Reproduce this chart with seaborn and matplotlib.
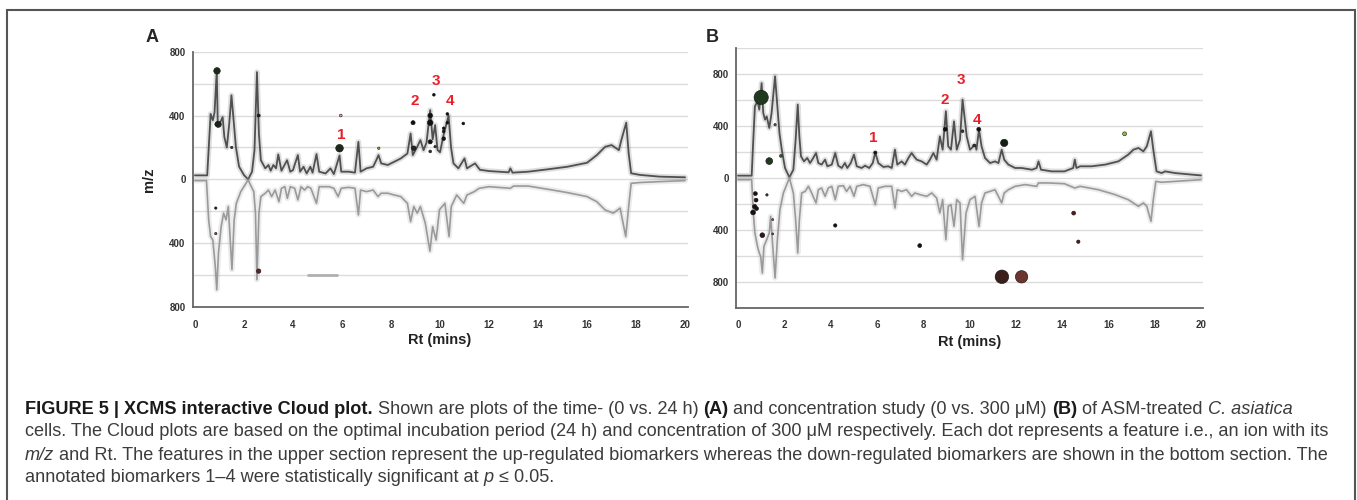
import matplotlib
matplotlib.use("Agg")
import matplotlib.pyplot as plt
from matplotlib.patches import Rectangle
from matplotlib.ticker import MultipleLocator, FuncFormatter
import seaborn as sns

# ---- data: Rt (min) and signed m/z height ----
# panel A, upper (up-regulated) trace
rt_a_up = [0, 0.5, 0.64, 0.73, 0.8, 0.89, 0.93, 1.04, 1.13, 1.2, 1.3, 1.4, 1.49, 1.6, 1.67, 1.8, 2.0, 2.17,
           2.33, 2.43, 2.53, 2.61, 2.69, 2.87, 3.0, 3.09, 3.2, 3.31, 3.4, 3.53, 3.76, 3.89, 4.0, 4.2, 4.29,
           4.43, 4.56, 4.71, 4.8, 4.96, 5.07, 5.33, 5.53, 5.67, 5.9, 5.97, 6.27, 6.53, 6.67, 6.76, 7.0, 7.27,
           7.4, 7.49, 7.6, 7.87, 8.13, 8.4, 8.67, 8.8, 8.89, 9.07, 9.2, 9.33, 9.45, 9.6, 9.7, 9.8, 9.9, 10.0,
           10.15, 10.35, 10.45, 10.55, 10.75, 11.0, 11.1, 11.43, 11.63, 12.0, 12.8, 12.87, 12.96, 13.6, 14.4,
           15.2, 16.0, 16.4, 16.74, 17.0, 17.3, 17.4, 17.6, 17.7, 17.8, 18.15, 18.96, 20.0]
mz_a_up = [25, 25, 410, 370, 420, 680, 350, 360, 390, 265, 200, 350, 527, 330, 204, 80, 27, 0,
           48, 183, 672, 287, 120, 69, 90, 54, 90, 69, 156, 54, 120, 48, 58, 152, 48,
           79, 37, 79, 42, 158, 48, 37, 69, 33, 150, 48, 48, 42, 235, 48, 69, 79,
           120, 152, 100, 90, 110, 131, 162, 287, 152, 204, 246, 183, 230, 434, 250, 340, 184, 170,
           280, 400, 200, 100, 69, 131, 69, 100, 60, 52, 44, 69, 42, 48, 63,
           79, 104, 152, 204, 215, 183, 246, 355, 162, 38, 28, 17, 13]

# panel A, lower (down-regulated) trace
rt_a_dn = [0, 0.47, 0.56, 0.64, 0.73, 0.83, 0.89, 0.96, 1.07, 1.17, 1.27, 1.36, 1.44, 1.51, 1.6, 1.69, 1.87,
           2.17, 2.4, 2.47, 2.53, 2.61, 2.69, 2.87, 3.0, 3.13, 3.27, 3.43, 3.53, 3.67, 3.77, 3.89, 4.07, 4.2,
           4.33, 4.47, 4.6, 4.73, 4.96, 5.07, 5.47, 5.67, 5.84, 5.97, 6.27, 6.53, 6.67, 6.76, 7.0, 7.27, 7.47,
           7.6, 7.87, 8.13, 8.4, 8.67, 8.8, 8.93, 9.07, 9.2, 9.4, 9.59, 9.7, 9.84, 9.98, 10.2, 10.37, 10.46,
           10.68, 10.97, 11.1, 11.4, 11.6, 12.0, 12.87, 13.0, 13.6, 14.4, 15.2, 16.0, 16.4, 16.74, 17.07,
           17.35, 17.58, 17.7, 17.8, 18.15, 19.0, 20.0]
mz_a_dn = [-8, -8, -254, -358, -380, -546, -692, -462, -296, -212, -254, -170, -379, -566, -254, -150, -77,
           -4, -77, -212, -629, -212, -108, -87, -67, -108, -67, -140, -56, -46, -119, -46, -56, -129,
           -46, -67, -46, -56, -150, -46, -46, -56, -108, -56, -50, -56, -223, -67, -77, -67, -108,
           -87, -87, -98, -108, -150, -265, -170, -212, -170, -275, -450, -296, -380, -190, -150, -358, -170,
           -98, -150, -98, -77, -56, -46, -56, -42, -42, -62, -83, -108, -140, -192, -212,
           -180, -358, -170, -25, -20, -14, -8]

# panel B, upper trace
rt_b_up = [0, 0.59, 0.66, 0.73, 0.84, 0.92, 1.02, 1.09, 1.17, 1.24, 1.35, 1.45, 1.6, 1.7, 1.79, 1.89, 2.03,
           2.22, 2.39, 2.49, 2.58, 2.65, 2.72, 2.85, 2.99, 3.11, 3.25, 3.37, 3.47, 3.61, 3.76, 3.86, 4.05,
           4.2, 4.33, 4.48, 4.62, 4.72, 4.87, 5.01, 5.13, 5.34, 5.49, 5.67, 5.82, 5.93, 6.06, 6.28, 6.49,
           6.64, 6.78, 6.88, 7.07, 7.21, 7.36, 7.5, 7.6, 7.72, 7.93, 8.15, 8.29, 8.44, 8.58, 8.72, 8.84,
           8.98, 9.08, 9.2, 9.33, 9.45, 9.59, 9.7, 9.88, 10.02, 10.24, 10.3, 10.41, 10.52, 10.67, 10.89,
           11.1, 11.25, 11.39, 11.5, 11.68, 11.97, 12.25, 12.7, 12.9, 12.98, 13.09, 13.55, 14.1, 14.48,
           14.55, 14.62, 14.78, 15.28, 15.86, 16.43, 16.86, 17.08, 17.3, 17.51, 17.66, 17.84, 17.94, 18.08,
           18.3, 18.45, 18.88, 19.6, 20.0]
mz_b_up = [18, 18, 295, 551, 590, 526, 730, 500, 449, 474, 385, 500, 782, 551, 346, 218, 77,
           5, 64, 295, 564, 320, 167, 128, 154, 115, 154, 192, 115, 103, 141, 90, 103,
           192, 95, 77, 115, 77, 115, 180, 90, 77, 95, 77, 115, 197, 115, 85, 90,
           77, 218, 103, 128, 103, 154, 192, 167, 141, 128, 103, 141, 192, 141, 320, 218,
           513, 244, 218, 436, 218, 295, 603, 320, 218, 256, 218, 372, 244, 154, 115,
           128, 115, 218, 141, 103, 77, 77, 64, 77, 128, 64, 51, 51, 77,
           141, 77, 90, 90, 103, 128, 180, 218, 231, 205, 244, 359, 218, 51,
           38, 51, 38, 26, 20]

# panel B, lower trace
rt_b_dn = [0, 0.59, 0.66, 0.73, 0.84, 0.92, 0.98, 1.05, 1.12, 1.24, 1.35, 1.41, 1.48, 1.6, 1.7, 1.81, 1.96,
           2.22, 2.39, 2.49, 2.58, 2.65, 2.75, 2.9, 3.04, 3.18, 3.37, 3.47, 3.61, 3.76, 3.9, 4.05, 4.2,
           4.33, 4.55, 4.69, 4.84, 5.01, 5.13, 5.41, 5.7, 5.93, 6.06, 6.35, 6.64, 6.78, 6.88, 7.07, 7.28,
           7.5, 7.64, 7.86, 8.15, 8.37, 8.58, 8.72, 8.84, 8.98, 9.08, 9.2, 9.33, 9.45, 9.59, 9.7, 9.85,
           10.02, 10.24, 10.41, 10.52, 10.67, 10.89, 11.1, 11.25, 11.39, 11.5, 11.68, 11.97, 12.4, 12.9,
           12.98, 13.4, 14.1, 14.55, 14.78, 15.57, 16.29, 16.86, 17.3, 17.51, 17.66, 17.84, 17.94, 18.05,
           18.3, 18.88, 20.0]
mz_b_dn = [-13, -13, -269, -423, -526, -577, -603, -731, -526, -474, -423, -295, -474, -769, -474, -244, -115,
           0, -115, -321, -577, -321, -115, -103, -64, -115, -192, -90, -77, -141, -77, -64, -167,
           -64, -59, -103, -64, -141, -64, -51, -64, -205, -77, -64, -64, -231, -90, -103, -90,
           -141, -115, -128, -141, -115, -154, -269, -167, -474, -218, -205, -372, -167, -192, -628, -269,
           -167, -141, -372, -192, -115, -103, -90, -141, -192, -115, -90, -64, -51, -64,
           -38, -38, -44, -77, -64, -90, -128, -167, -218, -192, -218, -333, -167, -26,
           -33, -26, -13]

# features (dots): Rt, signed m/z, marker area, colour
dot_a_rt = [0.9, 0.95, 0.88, 2.6, 1.5, 5.9, 5.95, 7.5, 8.9, 8.93, 9.6, 9.6, 9.6, 9.6, 9.75, 9.8,
            10.15, 10.15, 10.15, 10.3, 10.3, 10.95, 0.85, 0.85, 2.6]
dot_a_mz = [680, 345, 345, 400, 200, 195, 400, 195, 355, 195, 400, 355, 235, 175, 530, 205,
            320, 300, 255, 410, 355, 350, -180, -340, -575]
dot_a_s = [22, 20, 6, 5, 3, 30, 4, 3, 9, 11, 11, 16, 9, 4, 4, 3,
           4, 4, 7, 4, 4, 4, 3, 3, 10]
dot_a_col = ["#1c2a1c", "#1c2a1c", "#222222", "#222222", "#333333", "#1c2a1c", "#f4a0a0", "#7cb82f",
             "#111111", "#1c2a1c", "#111111", "#111111", "#111111", "#333333", "#111111", "#333333",
             "#111111", "#111111", "#111111", "#111111", "#111111", "#111111", "#222222", "#c0392b",
             "#6b1e1e"]

dot_b_rt = [1.0, 1.35, 1.85, 1.6, 5.93, 8.95, 9.7, 10.2, 10.4, 11.5, 16.7,
            0.75, 0.78, 0.72, 0.8, 0.65, 1.25, 1.05, 1.5, 1.5, 4.2, 7.85, 14.5, 14.7, 11.4, 12.25]
dot_b_mz = [620, 130, 170, 410, 195, 375, 360, 250, 375, 270, 340,
            -120, -170, -220, -235, -265, -130, -440, -320, -430, -365, -520, -270, -490, -760, -760]
dot_b_s = [105, 24, 4, 3, 5, 8, 4, 4, 8, 28, 8,
           8, 8, 10, 8, 12, 3, 12, 2, 2, 6, 8, 8, 6, 95, 80]
dot_b_col = ["#1f3a1f", "#1f3a1f", "#2e6b2e", "#555555", "#111111", "#111111", "#333333", "#333333",
             "#111111", "#142014", "#8cc43c",
             "#1a1010", "#2a1010", "#1a1010", "#1a1010", "#1a1010", "#333333", "#3a1515", "#c0392b",
             "#c0392b", "#111111", "#111111", "#5a1a1a", "#5a1a1a", "#3b1f1c", "#6b3530"]

# annotated biomarkers 1-4
marker_ids = ["1", "2", "3", "4"]
mark_a_rt = [5.95, 8.95, 9.85, 10.4]
mark_a_mz = [277, 492, 615, 492]
mark_b_rt = [5.85, 8.95, 9.61, 10.33]
mark_b_mz = [304, 602, 754, 450]

# grey bar left in panel A
bar_a_rt = [4.6, 5.8]
bar_a_mz = [-600, -600]

caption = [
    [("FIGURE 5 | XCMS interactive Cloud plot.", "b"),
     (" Shown are plots of the time- (0 vs. 24 h) ", "n"), ("(A)", "b"),
     (" and concentration study (0 vs. 300 \u03bcM) ", "n"), ("(B)", "b"),
     (" of ASM-treated ", "n"), ("C. asiatica", "i")],
    [("cells. The Cloud plots are based on the optimal incubation period (24 h) and concentration of "
      "300 \u03bcM respectively. Each dot represents a feature i.e., an ion with its", "n")],
    [("m/z", "i"), (" and Rt. The features in the upper section represent the up-regulated biomarkers "
                    "whereas the down-regulated biomarkers are shown in the bottom section. The", "n")],
    [("annotated biomarkers 1\u20134 were statistically significant at ", "n"), ("p", "i"),
     (" \u2264 0.05.", "n")],
]

# ---- figure ----
sns.set_style("white")
plt.rcParams["font.family"] = ["Liberation Sans", "DejaVu Sans"]

W, H = 1357, 500
fig = plt.figure(figsize=(W / 100, H / 100), dpi=100)


def px_axes(x0, x1, y0, y1):
    return fig.add_axes([x0 / W, 1 - y1 / H, (x1 - x0) / W, (y1 - y0) / H])


ax_a = px_axes(192.5, 687.5, 51.7, 307)
ax_b = px_axes(735.7, 1203.3, 48, 308)


def draw_panel(ax, rt_up, mz_up, rt_dn, mz_dn, d_rt, d_mz, d_s, d_col, m_rt, m_mz, lim):
    for rt, mz, col, lw in ((rt_up, mz_up, "#505050", 1.3), (rt_dn, mz_dn, "#9a9a9a", 1.2)):
        # faint band for the overlaid replicate traces, then the mean trace
        sns.lineplot(x=rt, y=mz, ax=ax, color=col, lw=4.0, alpha=0.18, sort=False, estimator=None)
        sns.lineplot(x=rt, y=mz, ax=ax, color=col, lw=lw, sort=False, estimator=None)
    pal = {c: c for c in d_col}
    sns.scatterplot(x=d_rt, y=d_mz, hue=d_col, palette=pal, size=d_s,
                    sizes=(min(d_s), max(d_s)), size_norm=(min(d_s), max(d_s)),
                    edgecolor="#111111", linewidth=0.4, legend=False, ax=ax, zorder=5)
    for t, x, y in zip(marker_ids, m_rt, m_mz):
        ax.text(x, y, t, color="#e8202a", fontsize=11, fontweight="bold",
                ha="center", va="center", zorder=6)
    ax.set_xlim(-0.1, 20.1)
    ax.set_ylim(-lim, lim)
    ax.set_xticks(range(0, 21, 2))
    ax.set_yticks([-800, -400, 0, 400, 800])
    ax.yaxis.set_minor_locator(MultipleLocator(200))
    ax.yaxis.set_major_formatter(FuncFormatter(lambda v, p: f"{abs(int(v))}"))
    ax.grid(which="both", axis="y", color="#dcdcdc", lw=1.0)
    ax.grid(which="both", axis="x", visible=False)
    ax.set_axisbelow(True)
    for s in ("top", "right"):
        ax.spines[s].set_visible(False)
    for s in ("left", "bottom"):
        ax.spines[s].set_color("#666666")
        ax.spines[s].set_linewidth(1.3)
    ax.tick_params(axis="x", which="major", direction="out", length=4, width=1, color="#444444",
                   labelsize=7, labelcolor="#333333", pad=5)
    ax.tick_params(axis="y", which="both", length=0, labelsize=7, labelcolor="#333333", pad=5)
    for lab in ax.get_xticklabels() + ax.get_yticklabels():
        lab.set_fontweight("bold")
    ax.set_xlabel("Rt (mins)", fontsize=10.5, fontweight="bold", color="#222222")
    ax.xaxis.set_label_coords(0.5, -33 / 256)
    ax.xaxis.label.set_va("center")
    ax.set_ylabel("")


draw_panel(ax_a, rt_a_up, mz_a_up, rt_a_dn, mz_a_dn, dot_a_rt, dot_a_mz, dot_a_s, dot_a_col,
           mark_a_rt, mark_a_mz, 800)
sns.lineplot(x=bar_a_rt, y=bar_a_mz, ax=ax_a, color="#b0b0b0", lw=2, estimator=None)
draw_panel(ax_b, rt_b_up, mz_b_up, rt_b_dn, mz_b_dn, dot_b_rt, dot_b_mz, dot_b_s, dot_b_col,
           mark_b_rt, mark_b_mz, 1000)

ax_a.set_ylabel("m/z", fontsize=10.5, fontweight="bold", color="#222222")
ax_a.yaxis.set_label_coords(-(195 - 152) / 495, 0.5)
ax_a.yaxis.label.set_va("center")

fig.text(152 / W, 1 - 37 / H, "A", fontsize=13, fontweight="bold", ha="center", va="center")
fig.text(712 / W, 1 - 37 / H, "B", fontsize=13, fontweight="bold", ha="center", va="center")

# frame around the figure
fig.add_artist(Rectangle((7 / W, -0.05), (1355 - 7) / W, 1.05 - 10 / H, transform=fig.transFigure,
                         fill=False, edgecolor="#555555", lw=1.5))

# ---- caption, set piece by piece ----
cap_family = ["Liberation Sans", "DejaVu Sans"]
renderer = fig.canvas.get_renderer()


def text_width(s, size, weight="normal", style="normal"):
    t = fig.text(0, 0, s, fontsize=size, family=cap_family, fontweight=weight, fontstyle=style)
    w = t.get_window_extent(renderer).width
    t.remove()
    return w


cap_size = 10 * 1308 / text_width(caption[1][0][0], 10)


def rich_line(y_px, parts):
    sp = text_width("x x", cap_size) - text_width("xx", cap_size)
    x = 25
    for txt, st in parts:
        weight = "bold" if st == "b" else "normal"
        style = "italic" if st == "i" else "normal"
        col = "#1a1a1a" if st == "b" else "#3c3c3c"
        core = txt.strip(" ")
        x += sp * (len(txt) - len(txt.lstrip(" ")))
        t = fig.text(x / W, 1 - y_px / H, core, fontsize=cap_size, family=cap_family,
                     fontweight=weight, fontstyle=style, color=col, va="center", ha="left")
        x += t.get_window_extent(renderer).width
        x += sp * (len(txt) - len(txt.rstrip(" ")))


for i, parts in enumerate(caption):
    rich_line(409 + 23 * i, parts)

fig.savefig("out.png", dpi=100)
